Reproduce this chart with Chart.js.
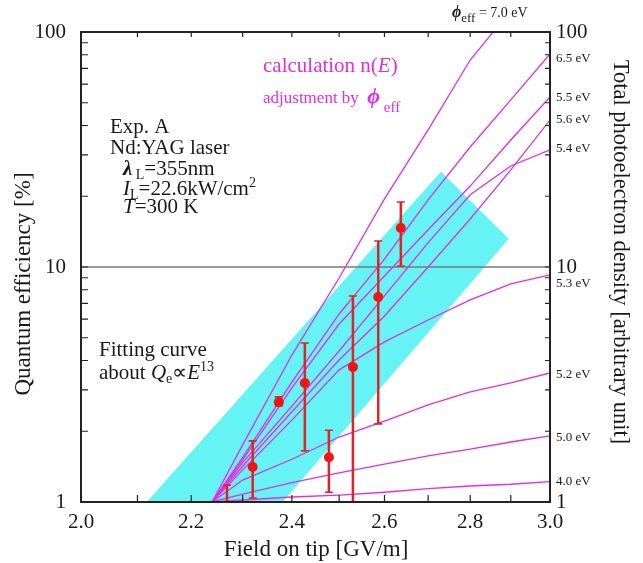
<!DOCTYPE html>
<html>
<head>
<meta charset="utf-8">
<script src="https://cdn.jsdelivr.net/npm/chart.js@4.4.1/dist/chart.umd.min.js"></script>
<style>
  html, body { margin: 0; padding: 0; background: #fff; }
  #wrap { width: 643px; height: 563px; }
</style>
</head>
<body>
<div id="wrap"><canvas id="qe" width="643" height="563"></canvas></div>
<script>
const fieldGrid = [2.24, 2.3, 2.4, 2.5, 2.6, 2.7, 2.8, 2.9, 3.0];
const field70 = [2.24, 2.3, 2.4, 2.5, 2.6, 2.7, 2.8, 2.87];

// calculation n(E), one array per phi_eff
const phi70 = [1, 1.75, 4.22, 8.98, 19.5, 38.3, 76.0, 107];
const phi65 = [1, 1.55, 3.24, 6.31, 10.8, 19.3, 32.4, 51.4, 80.6];
const phi55 = [1, 1.51, 3.06, 5.72, 9.16, 14.4, 22.1, 34.7, 52.9];
const phi54 = [1, 1.47, 2.56, 4.39, 7.53, 12.7, 20.3, 26.9, 31.5];
const phi56 = [1, 1.42, 2.42, 4.02, 6.19, 10.0, 16.0, 25.9, 42.2];
const phi53 = [1, 1.37, 2.23, 3.65, 4.80, 5.95, 7.24, 8.47, 9.25];
const phi52 = [1, 1.24, 1.52, 1.89, 2.21, 2.59, 2.94, 3.21, 3.54];
const phi50 = [1, 1.08, 1.21, 1.33, 1.45, 1.57, 1.68, 1.80, 1.91];
const phi40 = [1, 1.02, 1.05, 1.07, 1.10, 1.14, 1.17, 1.19, 1.22];

// measured quantum efficiency (Exp. A) with error bars
const measE = [2.269, 2.320, 2.373, 2.427, 2.478, 2.530, 2.586, 2.637];
const measQ = [0.95, 1.41, 2.66, 3.21, 1.55, 3.75, 7.45, 14.65];
const errLow = [0.8, 1.04, 2.56, 1.65, 1.10, 0.5, 2.15, 10.1];
const errHigh = [1.18, 1.82, 2.80, 4.75, 2.02, 7.53, 12.9, 18.9];

// fitting band Qe ~ E^13 (corners)
const bandE = [2.117, 2.730, 2.895, 2.381, 2.117];
const bandQ = [1, 25.4, 13.2, 1, 1];

// reference line at 10
const refE = [2.0, 3.0];
const refQ = [10, 10];

// ticks
const xTicks = [2.0, 2.1, 2.2, 2.3, 2.4, 2.5, 2.6, 2.7, 2.8, 2.9, 3.0];
const xLabeled = [2.0, 2.2, 2.4, 2.6, 2.8, 3.0];
const yTicks = [1, 2, 3, 4, 5, 6, 7, 8, 9, 10, 20, 30, 40, 50, 60, 70, 80, 90, 100];
const yLabeled = [1, 10, 100];

const SERIF = "'Liberation Serif', 'Times New Roman', serif";
const MAGENTA = "#e22ee2";

const pts = (xs, ys) => xs.map((v, i) => ({ x: v, y: ys[i] }));

function curve(xs, ys) {
  return {
    data: pts(xs, ys),
    showLine: true,
    borderColor: MAGENTA,
    borderWidth: 1.3,
    pointRadius: 0,
    tension: 0,
    order: 3,
  };
}

// draws a run of text pieces with sub/superscripts
function runs(ctx, x, y, parts, color) {
  ctx.fillStyle = color;
  ctx.textBaseline = "alphabetic";
  ctx.textAlign = "left";
  parts.forEach(([t, font, dy]) => {
    ctx.font = font;
    ctx.fillText(t, x, y + (dy || 0));
    x += ctx.measureText(t).width;
  });
}

const decorations = {
  id: "decorations",
  beforeDatasetDraw(chart, args) {
    if (args.index !== 10) return;
    const { ctx, scales: { x, y }, chartArea: a } = chart;
    ctx.save();
    ctx.beginPath();
    ctx.rect(a.left, a.top, a.right - a.left, a.bottom - a.top);
    ctx.clip();
    ctx.strokeStyle = "#e02424";
    measE.forEach((e, i) => {
      const px = x.getPixelForValue(e);
      const lo = y.getPixelForValue(errLow[i]);
      const hi = y.getPixelForValue(errHigh[i]);
      ctx.lineWidth = 2.5;
      ctx.beginPath();
      ctx.moveTo(px, lo);
      ctx.lineTo(px, hi);
      ctx.stroke();
      ctx.lineWidth = 1.6;
      ctx.beginPath();
      ctx.moveTo(px - 4, hi); ctx.lineTo(px + 4, hi);
      ctx.moveTo(px - 4, lo); ctx.lineTo(px + 4, lo);
      ctx.stroke();
    });
    ctx.restore();
  },
  afterDraw(chart) {
    const { ctx, scales: { x, y }, chartArea: a } = chart;
    ctx.save();
    // inward tick marks
    ctx.strokeStyle = "#222";
    ctx.lineWidth = 1.2;
    ctx.beginPath();
    xTicks.forEach(v => {
      const px = x.getPixelForValue(v);
      ctx.moveTo(px, a.bottom); ctx.lineTo(px, a.bottom - 7);
      ctx.moveTo(px, a.top); ctx.lineTo(px, a.top + 5);
    });
    yTicks.forEach(v => {
      const py = y.getPixelForValue(v);
      ctx.moveTo(a.left, py); ctx.lineTo(a.left + 7, py);
      ctx.moveTo(a.right, py); ctx.lineTo(a.right - 5, py);
    });
    ctx.stroke();
    // frame
    ctx.lineWidth = 2;
    ctx.strokeStyle = "#222";
    ctx.strokeRect(a.left, a.top, a.right - a.left, a.bottom - a.top);

    // left text block
    const f21 = "21px " + SERIF;
    const f21i = "italic 21px " + SERIF;
    const f14 = "14px " + SERIF;
    const ink = "#1a1a1a";
    runs(ctx, 110, 133, [["Exp. A", f21]], ink);
    runs(ctx, 110, 154, [["Nd:YAG laser", f21]], ink);
    runs(ctx, 123, 175, [["λ", "bold italic 21px " + SERIF], [" L", f14, 4], ["=355nm", f21]], ink);
    runs(ctx, 123, 195, [["I", f21i], ["L", f14, 4], ["=22.6kW/cm", f21], ["2", f14, -8]], ink);
    runs(ctx, 123, 213, [["T", f21i], ["=300 K", f21]], ink);
    runs(ctx, 99, 356, [["Fitting curve", f21]], ink);
    runs(ctx, 99, 379, [["about ", f21], ["Q", f21i], ["e", f14, 4], ["∝", f21], ["E", f21i], ["13", f14, -8]], ink);

    // magenta annotations
    runs(ctx, 263, 72, [["calculation n(", f21], ["E", f21i], [")", f21]], MAGENTA);
    runs(ctx, 263, 103, [["adjustment by  ", "17px " + SERIF], ["ϕ", "bold italic 22px " + SERIF], [" eff", "15px " + SERIF, 9]], MAGENTA);

    // phi_eff labels at curve ends
    const f13 = "13px " + SERIF;
    runs(ctx, 452, 17, [["ϕ", "bold italic 16px " + SERIF], ["eff", "13px " + SERIF, 5], [" = 7.0 eV", "14px " + SERIF]], ink);
    [["6.5 eV", 62], ["5.5 eV", 101], ["5.6 eV", 123], ["5.4 eV", 152],
     ["5.3 eV", 287], ["5.2 eV", 378], ["5.0 eV", 441], ["4.0 eV", 485]]
      .forEach(([t, py]) => runs(ctx, 556, py, [[t, f13]], ink));

    // axis titles
    ctx.fillStyle = ink;
    ctx.font = "23px " + SERIF;
    ctx.textAlign = "center";
    ctx.textBaseline = "alphabetic";
    ctx.fillText("Field on tip [GV/m]", 316, 556);
    ctx.save();
    ctx.translate(30, 284);
    ctx.rotate(-Math.PI / 2);
    ctx.fillText("Quantum efficiency [%]", 0, 0);
    ctx.restore();
    ctx.save();
    ctx.translate(614, 252);
    ctx.rotate(Math.PI / 2);
    ctx.font = "22.5px " + SERIF;
    ctx.fillText("Total photoelectron density [arbitrary unit]", 0, 0);
    ctx.restore();
    ctx.restore();
  },
};

const logAxis = (position, width, padding) => ({
  type: "logarithmic",
  position,
  min: 1,
  max: 100,
  afterFit(scale) { scale.width = width; },
  afterBuildTicks(scale) { scale.ticks = yTicks.map(v => ({ value: v })); },
  grid: { display: false, drawTicks: false },
  border: { display: false },
  ticks: {
    autoSkip: false,
    padding,
    color: "#1a1a1a",
    font: { family: SERIF, size: 21 },
    callback: v => (yLabeled.includes(v) ? String(v) : ""),
  },
});

new Chart(document.getElementById("qe"), {
  type: "scatter",
  data: {
    datasets: [
      curve(field70, phi70),
      curve(fieldGrid, phi65),
      curve(fieldGrid, phi55),
      curve(fieldGrid, phi54),
      curve(fieldGrid, phi56),
      curve(fieldGrid, phi53),
      curve(fieldGrid, phi52),
      curve(fieldGrid, phi50),
      curve(fieldGrid, phi40),
      {
        data: pts(refE, refQ),
        showLine: true,
        borderColor: "#7a7a7a",
        borderWidth: 1.6,
        pointRadius: 0,
        order: 5,
      },
      {
        label: "measured",
        data: pts(measE, measQ),
        backgroundColor: "#f01414",
        borderColor: "#f01414",
        pointRadius: 5,
        borderWidth: 0,
        order: 1,
      },
      {
        data: pts(bandE, bandQ),
        showLine: true,
        fill: "shape",
        backgroundColor: "#66f3f3",
        borderWidth: 0,
        pointRadius: 0,
        tension: 0,
        order: 10,
      },
    ],
  },
  options: {
    responsive: false,
    animation: false,
    devicePixelRatio: 1,
    layout: { padding: { top: 32, left: 0, right: 0, bottom: 0 } },
    plugins: { legend: { display: false }, tooltip: { enabled: false } },
    scales: {
      x: {
        type: "logarithmic",
        position: "bottom",
        min: 2,
        max: 3,
        afterFit(scale) { scale.height = 61; },
        afterBuildTicks(scale) { scale.ticks = xTicks.map(v => ({ value: v })); },
        grid: { display: false, drawTicks: false },
        border: { display: false },
        ticks: {
          autoSkip: false,
          maxRotation: 0,
          padding: 8,
          color: "#1a1a1a",
          font: { family: SERIF, size: 21 },
          callback: v => (xLabeled.some(l => Math.abs(l - v) < 1e-6) ? v.toFixed(1) : ""),
        },
      },
      y: logAxis("left", 81, 15),
      y2: logAxis("right", 93, 6),
    },
  },
  plugins: [decorations],
});
</script>
</body>
</html>
